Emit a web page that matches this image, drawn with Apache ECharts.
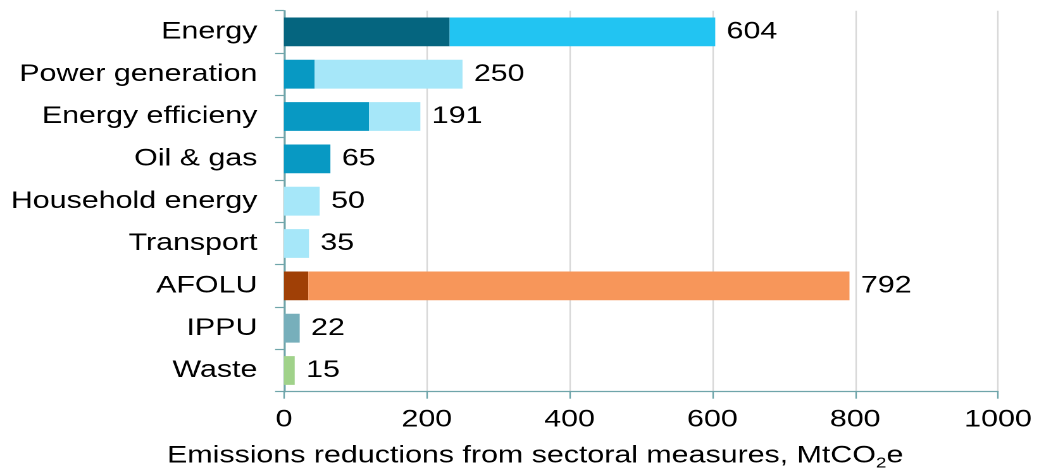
<!DOCTYPE html>
<html>
<head>
<meta charset="utf-8">
<script src="https://cdn.jsdelivr.net/npm/echarts@6/dist/echarts.min.js"></script>
<style>
  html, body { margin: 0; padding: 0; background: #ffffff; overflow: hidden; }
  /* The chart is laid out narrow and widened horizontally, giving the wide lettering */
  #chart { width: 821px; height: 472px; transform: scaleX(1.2655); transform-origin: 0 0; }
</style>
</head>
<body>
<div id="chart"></div>
<script>
// Sectors, top to bottom
const categories = ['Energy', 'Power generation', 'Energy efficieny', 'Oil & gas',
  'Household energy', 'Transport', 'AFOLU', 'IPPU', 'Waste'];
// Total reductions per sector, MtCO2e
const totals = [604, 250, 191, 65, 50, 35, 792, 22, 15];
// Darker leading part of each bar, MtCO2e
const baseShare = [232, 43, 119, 65, 0, 0, 34, 0, 0];
// x-axis ticks
const xTicks = [0, 200, 400, 600, 800, 1000];

const baseColors = ['#05657f', '#0899c3', '#0899c3', '#0899c3', '#0899c3', '#0899c3', '#a04006', '#77afbb', '#a0d28a'];
const restColors = ['#22c4f2', '#a6e7f9', '#a6e7f9', '#0899c3', '#a6e7f9', '#a6e7f9', '#f7965a', '#77afbb', '#a0d28a'];

const FONT = '"Liberation Sans", Arial, sans-serif';
const AXIS = '#6fa5aa';

const baseData = baseShare.map((v, i) => ({ value: v, itemStyle: { color: baseColors[i] } }));
const restData = totals.map((t, i) => ({ value: t - baseShare[i], itemStyle: { color: restColors[i] } }));

const chart = echarts.init(document.getElementById('chart'), null, { renderer: 'canvas', devicePixelRatio: 2 });
chart.setOption({
  animation: false,
  backgroundColor: '#ffffff',
  textStyle: { fontFamily: FONT },
  grid: { left: 224.4, right: 32.4, top: 10.7, bottom: 80.3, containLabel: false },
  title: {
    text: 'Emissions reductions from sectoral measures, MtCO{sub|2}e',
    left: 132,
    top: 441,
    padding: 0,
    textStyle: {
      fontFamily: FONT, fontSize: 24, fontWeight: 'normal', color: '#000000',
      lineHeight: 30, verticalAlign: 'bottom',
      rich: {
        sub: { fontFamily: FONT, fontSize: 15, lineHeight: 22, verticalAlign: 'bottom', color: '#000000' }
      }
    }
  },
  xAxis: {
    type: 'value',
    min: xTicks[0],
    max: xTicks[xTicks.length - 1],
    interval: xTicks[1] - xTicks[0],
    axisLine: { show: true, lineStyle: { color: AXIS, width: 1.2 } },
    axisTick: { show: true, length: 7, lineStyle: { color: AXIS, width: 1.2 } },
    axisLabel: { fontFamily: FONT, fontSize: 24, color: '#000000', margin: 16, formatter: v => String(v) },
    splitLine: { show: true, lineStyle: { color: '#d9d9d9', width: 1.2 } }
  },
  yAxis: {
    type: 'category',
    data: categories,
    inverse: true,
    axisLine: { show: true, lineStyle: { color: AXIS, width: 1.5 } },
    axisTick: { show: true, length: 7, lineStyle: { color: AXIS, width: 1.2 } },
    axisLabel: { fontFamily: FONT, fontSize: 24, color: '#000000', margin: 21 },
    splitLine: { show: false }
  },
  series: [
    {
      name: 'base', type: 'bar', stack: 'total', barCategoryGap: '32%',
      data: baseData
    },
    {
      name: 'rest', type: 'bar', stack: 'total', barCategoryGap: '32%',
      data: restData,
      label: {
        show: true, position: 'right', distance: 9,
        fontFamily: FONT, fontSize: 24, color: '#000000',
        formatter: p => String(totals[p.dataIndex])
      }
    }
  ]
});
</script>
</body>
</html>
